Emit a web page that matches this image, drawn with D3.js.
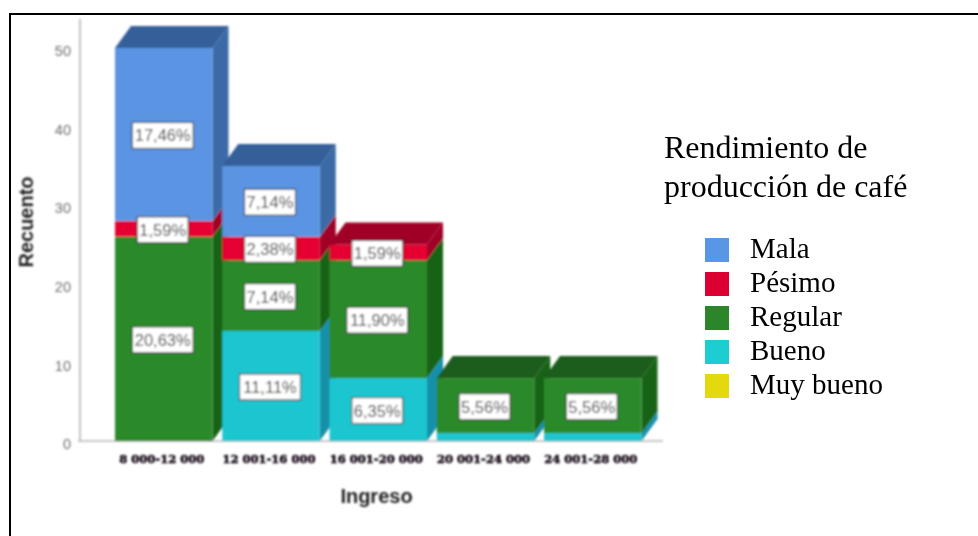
<!DOCTYPE html>
<html>
<head>
<meta charset="utf-8">
<script src="https://cdn.jsdelivr.net/npm/d3@7"></script>
<style>
  html, body { margin: 0; padding: 0; background: #fff; }
  svg { display: block; }
</style>
</head>
<body>
<svg id="chart" width="978" height="536"></svg>
<script>
// Income brackets on the horizontal axis
const categories = ["8 000-12 000", "12 001-16 000", "16 001-20 000", "20 001-24 000", "24 001-28 000"];
// Counts per coffee production rating, one entry per income bracket
const bueno  = [0, 14, 8, 1, 1];
const regular = [26, 9, 15, 7, 7];
const pesimo = [2, 3, 2, 0, 0];
const mala   = [22, 9, 0, 0, 0];
const muyBueno = [0, 0, 0, 0, 0];
const totalCases = 126;
// Rating names in stacking order, bottom to top
const stackKeys = ["Bueno", "Regular", "Pésimo", "Mala"];
const stackValues = [bueno, regular, pesimo, mala];
const legendNames = ["Mala", "Pésimo", "Regular", "Bueno", "Muy bueno"];
const legendFill = ["#5a96e6", "#dc0032", "#2b862b", "#1ccdd2", "#e4d80e"];
const faceColors = {
  Mala:    { front: "#5a94e2", side: "#3b6aa6", top: "#355f99" },
  "Pésimo":{ front: "#e60030", side: "#a00026", top: "#a00026" },
  Regular: { front: "#2b8a2b", side: "#146414", top: "#1a5c1a" },
  Bueno:   { front: "#1cc6d0", side: "#1690a8", top: "#1690a8" }
};
const yTicks = [0, 10, 20, 30, 40, 50];
const minLabelShare = 1.5;

const svg = d3.select("#chart");
const defs = svg.append("defs");
defs.append("filter").attr("id", "soft")
  .attr("filterUnits", "userSpaceOnUse")
  .attr("x", 0).attr("y", 0).attr("width", 978).attr("height", 536)
  .append("feGaussianBlur").attr("stdDeviation", 0.9);

const y = d3.scaleLinear().domain([0, 50]).range([441, 48]);
const x = d3.scaleBand().domain(categories).range([110.7, 645.8]).paddingInner(0.091).paddingOuter(0.04);
const depthX = 16, depthY = 22;

// Page frame: only the top and left rules fall inside the page
svg.append("path").attr("d", "M10,536V14H978")
  .attr("fill", "none").attr("stroke", "#000").attr("stroke-width", 2);

const plot = svg.append("g").attr("filter", "url(#soft)");

// Axis lines
plot.append("line").attr("x1", 80).attr("x2", 80).attr("y1", 19).attr("y2", y(0))
  .attr("stroke", "#c4c4c4").attr("stroke-width", 2);
plot.append("line").attr("x1", 78).attr("x2", 663).attr("y1", y(0)).attr("y2", y(0))
  .attr("stroke", "#b4b4b4").attr("stroke-width", 1.5);

// Vertical axis tick labels
const yAxis = d3.axisLeft(y).tickValues(yTicks).tickSize(0).tickPadding(0);
const yG = plot.append("g").attr("transform", "translate(71,3)").call(yAxis);
yG.select(".domain").remove();
yG.selectAll("text").attr("fill", "#6e6e6e").style("font", "14.5px 'Liberation Sans'");

// Horizontal axis labels
const xAxis = d3.axisBottom(x).tickSize(0).tickPadding(0);
const xG = plot.append("g").attr("transform", "translate(-2,455)").call(xAxis);
xG.select(".domain").remove();
xG.selectAll("text").attr("fill", "#0c0410").attr("stroke", "#0c0410").attr("stroke-width", 0.5)
  .style("font", "bold 11.5px 'DejaVu Serif'");

// Axis titles
plot.append("text").attr("transform", "translate(33,222) rotate(-90)").attr("text-anchor", "middle")
  .attr("fill", "#222").style("font", "bold 20px 'Liberation Sans'").text("Recuento");
plot.append("text").attr("x", 376.5).attr("y", 503).attr("text-anchor", "middle")
  .attr("fill", "#222").style("font", "bold 20px 'Liberation Sans'").text("Ingreso");

// Stacked 3D columns, drawn left to right so each front covers the previous side wall
const poly = pts => pts.map(p => p.join(",")).join(" ");
categories.forEach((cat, i) => {
  const bx = x(cat), w = x.bandwidth();
  const g = plot.append("g");
  let base = 0;
  const segs = [];
  stackKeys.forEach((key, k) => {
    const v = stackValues[k][i];
    if (v > 0) { segs.push({ key, v, y0: base, y1: base + v }); base += v; }
  });
  segs.forEach(s => {
    const c = faceColors[s.key];
    g.append("polygon").attr("fill", c.side).attr("points", poly([
      [bx + w, y(s.y0)], [bx + w + depthX, y(s.y0) - depthY],
      [bx + w + depthX, y(s.y1) - depthY], [bx + w, y(s.y1)]
    ]));
    g.append("rect").attr("x", bx).attr("width", w)
      .attr("y", y(s.y1)).attr("height", y(s.y0) - y(s.y1)).attr("fill", c.front);
  });
  const top = segs[segs.length - 1];
  g.append("polygon").attr("fill", faceColors[top.key].top).attr("points", poly([
    [bx, y(top.y1)], [bx + depthX, y(top.y1) - depthY],
    [bx + w + depthX, y(top.y1) - depthY], [bx + w, y(top.y1)]
  ]));
});

// Percentage labels in white boxes, centred on their segments
categories.forEach((cat, i) => {
  let base = 0;
  stackKeys.forEach((key, k) => {
    const v = stackValues[k][i];
    const share = v / totalCases * 100;
    if (v > 0 && share >= minLabelShare) {
      const label = share.toFixed(2).replace(".", ",") + "%";
      const cx = x(cat) + x.bandwidth() / 2 - 1, cy = y(base + v / 2) + 1;
      const boxW = label.length > 5 ? 61 : 51;
      plot.append("rect").attr("x", cx - boxW / 2).attr("y", cy - 13).attr("width", boxW).attr("height", 26)
        .attr("fill", "#fff").attr("stroke", "#222").attr("stroke-opacity", 0.8).attr("stroke-width", 1.2);
      plot.append("text").attr("x", cx).attr("y", cy + 6).attr("text-anchor", "middle")
        .attr("fill", "#3a3a3a").style("font", "16.5px 'Liberation Sans'").text(label);
    }
    base += v;
  });
});

// Legend
const legend = svg.append("g");
["Rendimiento de", "producción de café"].forEach((line, i) => {
  legend.append("text").attr("x", 664).attr("y", 158 + i * 39)
    .attr("fill", "#000").style("font", "32px 'Liberation Serif'").text(line);
});
const legendY = d3.scalePoint().domain(legendNames).range([250, 386]);
legendNames.forEach((name, i) => {
  const cy = legendY(name);
  legend.append("rect").attr("x", 705).attr("y", cy - 12).attr("width", 24).attr("height", 24).attr("fill", legendFill[i]);
  legend.append("text").attr("x", 750).attr("y", cy + 8)
    .attr("fill", "#000").style("font", "29px 'Liberation Serif'").text(name);
});
</script>
</body>
</html>
